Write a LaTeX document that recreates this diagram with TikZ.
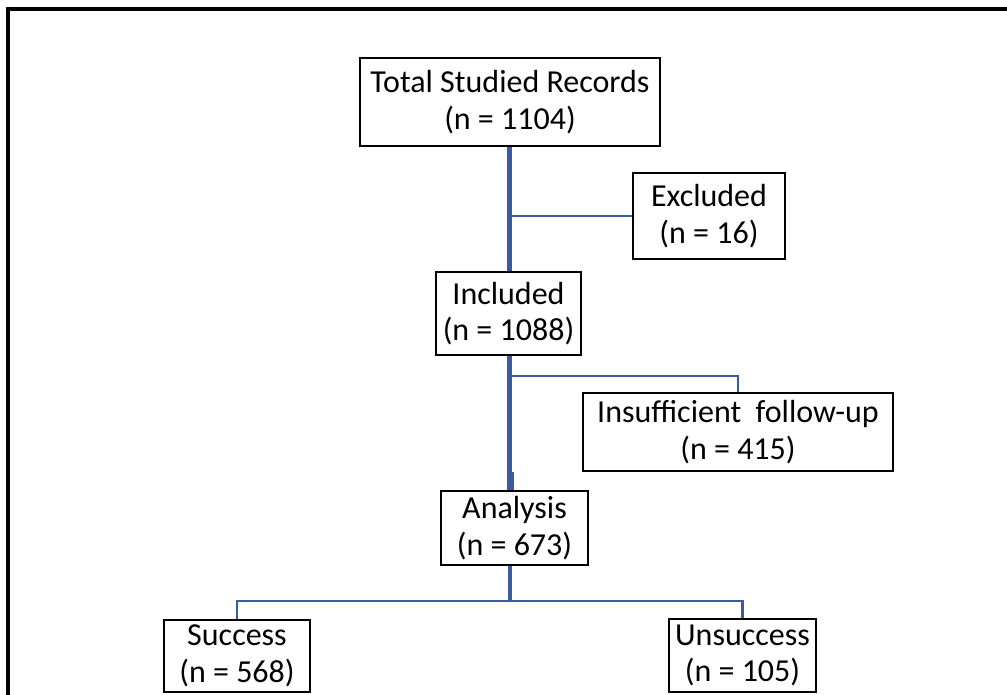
\documentclass[tikz,border=0pt]{standalone}
\usepackage{fontspec}
\setmainfont{Carlito}
\usepackage{tikz}
\definecolor{linkblue}{RGB}{59,91,160}
\tikzset{
	box/.style={draw=black, line width=2pt, rectangle, align=center, inner sep=0pt,
		font=\fontsize{24}{27.5}\selectfont},
	trunk/.style={draw=linkblue, line width=3.2pt},
	branch/.style={draw=linkblue, line width=1.6pt},
}

\begin{document}
\begin{tikzpicture}[x=0.75pt,y=-0.75pt]
\useasboundingbox (0,0) rectangle (1007,695);
\clip (0,0) rectangle (1007,695);
\draw[line width=2.3pt] (8,9) rectangle (1020,710);
\node[box, minimum width=225pt, minimum height=66pt] (total) at (510,102) {Total Studied Records\\(n = 1104)};
\node[box, minimum width=114pt, minimum height=64.5pt] (excl) at (709,216) {Excluded\\(n = 16)};
\node[box, minimum width=108.75pt, minimum height=62.25pt] (incl) at (508.5,313.5) {Included\\(n = 1088)};
\node[box, minimum width=232.5pt, minimum height=58.5pt] (insuf) at (738,432) {Insufficient\ \ follow-up\\(n = 415)};
\node[box, minimum width=110.25pt, minimum height=55.5pt] (anal) at (514.5,528) {Analysis\\(n = 673)};
\node[box, minimum width=109.5pt, minimum height=54pt] (succ) at (237,656) {Success\\(n = 568)};
\node[box, minimum width=110.25pt, minimum height=54.75pt] (unsucc) at (742.5,655.5) {Unsuccess\\(n = 105)};
\coordinate (split1) at (509.5,376);
\coordinate (split2) at (510,601);
\coordinate (jog) at (513,472);
\draw[trunk] (split1 |- total.south) -- (split1 |- incl.north);
\draw[branch] (split1 |- excl.west) -- (excl.west);
\draw[trunk] (split1 |- incl.south) -- (split1 |- anal.north);
\draw[branch] (split1) -| (insuf.north);
\draw[linkblue, line width=0.8pt] (jog) -- (jog |- anal.north);
\draw[trunk] (split2 |- anal.south) -- (split2);
\draw[branch, line width=2pt] (succ.north) |- (split2) -| (unsucc.north);
\end{tikzpicture}
\end{document}
